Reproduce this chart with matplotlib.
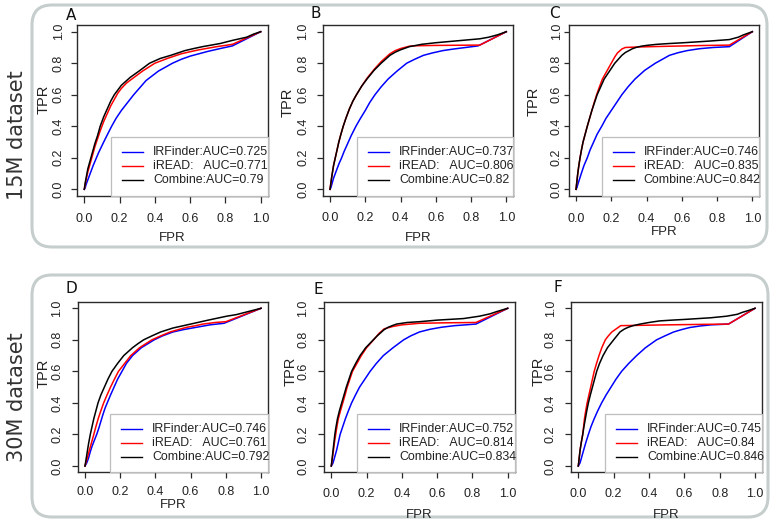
import matplotlib
matplotlib.use("Agg")
import matplotlib.pyplot as plt
from matplotlib.patches import FancyBboxPatch, Rectangle
from matplotlib.lines import Line2D

# ---------------- data ----------------
panel_letters = ["A", "B", "C", "D", "E", "F"]
row_titles = ["15M dataset", "30M dataset"]
tick_values = [0.0, 0.2, 0.4, 0.6, 0.8, 1.0]
tick_labels = ["0.0", "0.2", "0.4", "0.6", "0.8", "1.0"]
method_names = ["IRFinder", "iREAD", "Combine"]

auc_irfinder = [0.725, 0.737, 0.746, 0.746, 0.752, 0.745]
auc_iread = [0.771, 0.806, 0.835, 0.761, 0.814, 0.84]
auc_combine = [0.79, 0.82, 0.842, 0.792, 0.834, 0.846]

# Panel A
A_irf_fpr = [0, 0.005, 0.01, 0.02, 0.03, 0.04, 0.05, 0.065, 0.08, 0.095, 0.11, 0.13, 0.155, 0.18, 0.21, 0.245, 0.28, 0.315, 0.35, 0.385, 0.42, 0.46, 0.50, 0.55, 0.60, 0.65, 0.70, 0.77, 0.84, 1.0]
A_irf_tpr = [0, 0.01, 0.03, 0.06, 0.09, 0.12, 0.15, 0.19, 0.23, 0.265, 0.30, 0.345, 0.40, 0.45, 0.50, 0.55, 0.60, 0.645, 0.69, 0.72, 0.75, 0.775, 0.80, 0.825, 0.845, 0.86, 0.875, 0.893, 0.91, 1.0]
A_ird_fpr = [0, 0.01, 0.02, 0.03, 0.04, 0.05, 0.06, 0.075, 0.09, 0.11, 0.13, 0.15, 0.17, 0.19, 0.21, 0.24, 0.27, 0.30, 0.33, 0.365, 0.40, 0.435, 0.47, 0.51, 0.55, 0.60, 0.65, 0.70, 0.75, 0.80, 0.84, 1.0]
A_ird_tpr = [0, 0.06, 0.11, 0.15, 0.19, 0.23, 0.27, 0.32, 0.37, 0.43, 0.48, 0.53, 0.57, 0.61, 0.64, 0.675, 0.70, 0.725, 0.75, 0.775, 0.80, 0.815, 0.83, 0.845, 0.86, 0.873, 0.885, 0.895, 0.905, 0.913, 0.92, 1.0]
A_cmb_fpr = [0, 0.005, 0.01, 0.02, 0.03, 0.04, 0.05, 0.06, 0.075, 0.09, 0.11, 0.13, 0.15, 0.17, 0.19, 0.21, 0.235, 0.26, 0.285, 0.31, 0.34, 0.37, 0.40, 0.43, 0.46, 0.49, 0.53, 0.57, 0.62, 0.67, 0.72, 0.77, 0.84, 0.88, 0.92, 0.96, 1.0]
A_cmb_tpr = [0, 0.04, 0.07, 0.13, 0.17, 0.21, 0.25, 0.29, 0.34, 0.40, 0.46, 0.51, 0.56, 0.60, 0.63, 0.66, 0.685, 0.71, 0.73, 0.75, 0.775, 0.80, 0.815, 0.83, 0.84, 0.85, 0.865, 0.88, 0.893, 0.905, 0.915, 0.925, 0.945, 0.955, 0.965, 0.985, 1.0]

# Panel B
B_irf_fpr = [0, 0.005, 0.01, 0.02, 0.03, 0.04, 0.052, 0.066, 0.08, 0.10, 0.12, 0.147, 0.17, 0.20, 0.225, 0.255, 0.29, 0.33, 0.38, 0.435, 0.48, 0.53, 0.58, 0.64, 0.70, 0.77, 0.84, 1.0]
B_irf_tpr = [0, 0.01, 0.03, 0.07, 0.10, 0.13, 0.165, 0.20, 0.24, 0.29, 0.34, 0.40, 0.445, 0.50, 0.55, 0.60, 0.65, 0.70, 0.75, 0.80, 0.825, 0.85, 0.865, 0.88, 0.89, 0.90, 0.91, 1.0]
B_ird_fpr = [0, 0.005, 0.01, 0.02, 0.03, 0.04, 0.05, 0.062, 0.075, 0.09, 0.11, 0.13, 0.15, 0.18, 0.21, 0.25, 0.29, 0.315, 0.34, 0.37, 0.40, 0.45, 0.50, 0.60, 0.85, 1.0]
B_ird_tpr = [0, 0.04, 0.08, 0.15, 0.20, 0.25, 0.30, 0.35, 0.40, 0.45, 0.51, 0.56, 0.60, 0.655, 0.705, 0.76, 0.81, 0.835, 0.86, 0.88, 0.893, 0.908, 0.911, 0.913, 0.915, 1.0]
B_cmb_fpr = [0, 0.005, 0.01, 0.02, 0.03, 0.04, 0.05, 0.062, 0.075, 0.09, 0.11, 0.13, 0.15, 0.18, 0.21, 0.25, 0.29, 0.315, 0.34, 0.37, 0.40, 0.45, 0.52, 0.60, 0.72, 0.85, 0.90, 0.95, 1.0]
B_cmb_tpr = [0, 0.04, 0.08, 0.15, 0.20, 0.25, 0.30, 0.35, 0.40, 0.45, 0.51, 0.56, 0.60, 0.655, 0.70, 0.755, 0.80, 0.825, 0.85, 0.87, 0.885, 0.905, 0.92, 0.93, 0.942, 0.955, 0.965, 0.98, 1.0]

# Panel C
C_irf_fpr = [0, 0.005, 0.01, 0.02, 0.03, 0.045, 0.064, 0.08, 0.10, 0.12, 0.146, 0.17, 0.20, 0.23, 0.26, 0.295, 0.335, 0.39, 0.45, 0.49, 0.53, 0.58, 0.63, 0.70, 0.78, 0.87, 1.0]
C_irf_tpr = [0, 0.01, 0.03, 0.065, 0.10, 0.15, 0.20, 0.25, 0.30, 0.35, 0.40, 0.45, 0.50, 0.55, 0.60, 0.65, 0.70, 0.755, 0.80, 0.825, 0.85, 0.867, 0.88, 0.892, 0.90, 0.905, 1.0]
C_ird_fpr = [0, 0.005, 0.01, 0.016, 0.023, 0.031, 0.04, 0.052, 0.064, 0.077, 0.09, 0.103, 0.117, 0.133, 0.15, 0.175, 0.20, 0.22, 0.235, 0.26, 0.28, 0.35, 0.50, 0.70, 0.87, 1.0]
C_ird_tpr = [0, 0.05, 0.10, 0.15, 0.20, 0.25, 0.30, 0.35, 0.40, 0.45, 0.50, 0.55, 0.60, 0.65, 0.70, 0.75, 0.80, 0.84, 0.865, 0.89, 0.90, 0.903, 0.907, 0.912, 0.915, 1.0]
C_cmb_fpr = [0, 0.005, 0.01, 0.016, 0.023, 0.031, 0.04, 0.052, 0.064, 0.077, 0.09, 0.105, 0.12, 0.14, 0.16, 0.19, 0.22, 0.24, 0.26, 0.28, 0.30, 0.32, 0.34, 0.37, 0.40, 0.46, 0.53, 0.61, 0.75, 0.87, 0.92, 0.95, 1.0]
C_cmb_tpr = [0, 0.05, 0.10, 0.15, 0.20, 0.25, 0.30, 0.35, 0.40, 0.45, 0.50, 0.55, 0.60, 0.65, 0.70, 0.75, 0.80, 0.825, 0.85, 0.868, 0.88, 0.892, 0.90, 0.908, 0.913, 0.92, 0.925, 0.93, 0.94, 0.95, 0.965, 0.98, 1.0]

# Panel D
D_irf_fpr = [0, 0.01, 0.02, 0.03, 0.04, 0.054, 0.068, 0.08, 0.092, 0.103, 0.115, 0.13, 0.145, 0.165, 0.185, 0.21, 0.235, 0.27, 0.32, 0.393, 0.44, 0.50, 0.56, 0.635, 0.71, 0.79, 1.0]
D_irf_tpr = [0, 0.02, 0.05, 0.09, 0.125, 0.165, 0.205, 0.245, 0.29, 0.33, 0.37, 0.41, 0.45, 0.50, 0.55, 0.60, 0.65, 0.70, 0.75, 0.80, 0.825, 0.85, 0.865, 0.88, 0.895, 0.905, 1.0]
D_ird_fpr = [0, 0.005, 0.01, 0.02, 0.03, 0.04, 0.05, 0.062, 0.075, 0.09, 0.106, 0.125, 0.145, 0.167, 0.19, 0.225, 0.26, 0.31, 0.38, 0.43, 0.484, 0.53, 0.58, 0.63, 0.67, 0.74, 0.80, 1.0]
D_ird_tpr = [0, 0.02, 0.04, 0.08, 0.12, 0.16, 0.20, 0.25, 0.30, 0.35, 0.40, 0.45, 0.50, 0.55, 0.60, 0.65, 0.70, 0.75, 0.80, 0.825, 0.85, 0.865, 0.88, 0.89, 0.90, 0.91, 0.915, 1.0]
D_cmb_fpr = [0, 0.005, 0.01, 0.02, 0.03, 0.04, 0.05, 0.062, 0.074, 0.09, 0.11, 0.13, 0.153, 0.185, 0.22, 0.245, 0.27, 0.30, 0.333, 0.38, 0.43, 0.50, 0.60, 0.70, 0.805, 0.86, 0.93, 1.0]
D_cmb_tpr = [0, 0.035, 0.07, 0.14, 0.20, 0.25, 0.30, 0.35, 0.40, 0.45, 0.50, 0.55, 0.60, 0.65, 0.70, 0.725, 0.75, 0.775, 0.80, 0.825, 0.85, 0.875, 0.90, 0.925, 0.95, 0.96, 0.98, 1.0]

# Panel E
E_irf_fpr = [0, 0.01, 0.02, 0.03, 0.04, 0.05, 0.065, 0.08, 0.097, 0.115, 0.137, 0.16, 0.19, 0.22, 0.255, 0.295, 0.35, 0.41, 0.45, 0.50, 0.56, 0.625, 0.70, 0.82, 1.0]
E_irf_tpr = [0, 0.02, 0.06, 0.10, 0.15, 0.20, 0.25, 0.30, 0.35, 0.40, 0.45, 0.50, 0.55, 0.60, 0.65, 0.70, 0.75, 0.80, 0.825, 0.85, 0.867, 0.88, 0.89, 0.90, 1.0]
E_ird_fpr = [0, 0.005, 0.01, 0.018, 0.025, 0.032, 0.04, 0.052, 0.065, 0.078, 0.09, 0.105, 0.12, 0.145, 0.17, 0.20, 0.24, 0.27, 0.30, 0.35, 0.40, 0.50, 0.65, 0.82, 1.0]
E_ird_tpr = [0, 0.04, 0.08, 0.15, 0.20, 0.25, 0.30, 0.35, 0.40, 0.45, 0.50, 0.55, 0.60, 0.65, 0.70, 0.75, 0.80, 0.84, 0.87, 0.885, 0.895, 0.905, 0.908, 0.91, 1.0]
E_cmb_fpr = [0, 0.005, 0.01, 0.015, 0.02, 0.027, 0.035, 0.046, 0.059, 0.072, 0.085, 0.10, 0.115, 0.138, 0.163, 0.195, 0.238, 0.26, 0.285, 0.30, 0.323, 0.345, 0.37, 0.43, 0.50, 0.60, 0.75, 0.84, 0.90, 0.94, 1.0]
E_cmb_tpr = [0, 0.05, 0.10, 0.15, 0.20, 0.25, 0.30, 0.35, 0.40, 0.45, 0.50, 0.55, 0.60, 0.65, 0.70, 0.75, 0.80, 0.825, 0.85, 0.865, 0.88, 0.89, 0.90, 0.91, 0.915, 0.925, 0.935, 0.95, 0.965, 0.98, 1.0]

# Panel F
F_irf_fpr = [0, 0.01, 0.02, 0.03, 0.043, 0.057, 0.072, 0.09, 0.11, 0.132, 0.157, 0.185, 0.213, 0.245, 0.285, 0.33, 0.38, 0.443, 0.49, 0.54, 0.585, 0.63, 0.69, 0.75, 0.85, 1.0]
F_irf_tpr = [0, 0.02, 0.06, 0.10, 0.15, 0.20, 0.25, 0.30, 0.35, 0.40, 0.45, 0.50, 0.55, 0.60, 0.65, 0.70, 0.75, 0.80, 0.825, 0.85, 0.865, 0.878, 0.888, 0.895, 0.90, 1.0]
F_ird_fpr = [0, 0.005, 0.01, 0.017, 0.025, 0.03, 0.035, 0.042, 0.05, 0.06, 0.07, 0.08, 0.09, 0.103, 0.117, 0.133, 0.153, 0.17, 0.19, 0.24, 0.35, 0.50, 0.70, 0.85, 1.0]
F_ird_tpr = [0, 0.05, 0.10, 0.15, 0.20, 0.25, 0.30, 0.35, 0.40, 0.45, 0.50, 0.55, 0.60, 0.65, 0.70, 0.75, 0.80, 0.825, 0.85, 0.89, 0.892, 0.895, 0.898, 0.90, 1.0]
F_cmb_fpr = [0, 0.005, 0.01, 0.017, 0.025, 0.032, 0.04, 0.048, 0.057, 0.068, 0.08, 0.092, 0.104, 0.12, 0.14, 0.165, 0.20, 0.236, 0.26, 0.283, 0.31, 0.35, 0.40, 0.46, 0.53, 0.61, 0.75, 0.84, 0.90, 0.93, 0.96, 1.0]
F_cmb_tpr = [0, 0.05, 0.10, 0.15, 0.20, 0.25, 0.30, 0.35, 0.40, 0.45, 0.50, 0.55, 0.60, 0.65, 0.70, 0.75, 0.80, 0.85, 0.868, 0.88, 0.89, 0.90, 0.91, 0.92, 0.925, 0.93, 0.94, 0.95, 0.962, 0.975, 0.985, 1.0]

irfinder_curves = [(A_irf_fpr, A_irf_tpr), (B_irf_fpr, B_irf_tpr), (C_irf_fpr, C_irf_tpr),
                   (D_irf_fpr, D_irf_tpr), (E_irf_fpr, E_irf_tpr), (F_irf_fpr, F_irf_tpr)]
iread_curves = [(A_ird_fpr, A_ird_tpr), (B_ird_fpr, B_ird_tpr), (C_ird_fpr, C_ird_tpr),
                (D_ird_fpr, D_ird_tpr), (E_ird_fpr, E_ird_tpr), (F_ird_fpr, F_ird_tpr)]
combine_curves = [(A_cmb_fpr, A_cmb_tpr), (B_cmb_fpr, B_cmb_tpr), (C_cmb_fpr, C_cmb_tpr),
                  (D_cmb_fpr, D_cmb_tpr), (E_cmb_fpr, E_cmb_tpr), (F_cmb_fpr, F_cmb_tpr)]

# ---------------- layout (pixels, top-left origin) ----------------
W, H = 778, 525
# x of data 0, x of data 1, y of data 1, y of data 0, legend left, legend top,
# letter xy, TPR xy, FPR y, xtick label center y, ytick label center x, tick length
layout = [
    (84.3, 260.7, 31.7, 189.3, 111.0, 137.0, (71, 15), (44, 99), 238, 219, 59.0, 6.5),
    (330.0, 506.3, 31.7, 189.3, 357.3, 137.3, (316, 14), (288, 102), 238, 218, 303.5, 6.0),
    (576.0, 752.3, 31.7, 189.3, 601.7, 136.7, (554.5, 13), (534, 101), 232, 219, 557.0, 5.0),
    (85.0, 261.0, 308.3, 466.0, 110.0, 414.0, (71.5, 288.5), (44, 373), 505, 492, 57.5, 6.0),
    (331.3, 507.7, 308.3, 466.0, 357.3, 414.0, (318, 289.5), (291, 371), 515, 494, 303.5, 6.0),
    (578.3, 755.0, 308.3, 466.0, 605.0, 414.0, (557.5, 288), (539, 371), 515, 494, 551.0, 6.0),
]
frames = [(32, 5, 767, 247), (32, 275, 768, 517)]
row_title_pos = [(17, 135), (17, 397)]

SANS = ["Liberation Sans", "DejaVu Sans"]
tick_fs = 9.0

fig = plt.figure(figsize=(W / 100, H / 100), dpi=100)
fig.patch.set_facecolor("white")


def fx(x):
    return x / W


def fy(y):
    return 1 - y / H


# rounded frames
for (l, t, r, b) in frames:
    patch = FancyBboxPatch((l / 100, (H - b) / 100), (r - l) / 100, (b - t) / 100,
                           boxstyle="round,pad=0,rounding_size=0.2",
                           transform=fig.dpi_scale_trans, facecolor="none",
                           edgecolor="#c6cdcd", linewidth=2.2, zorder=0)
    fig.patches.append(patch)

for title, (tx, ty) in zip(row_titles, row_title_pos):
    fig.text(fx(tx), fy(ty), title, rotation=90, ha="center", va="center",
             fontsize=15, family=["DejaVu Sans"], color="#333333")

colors = ["#0000ff", "#ff0000", "#000000"]
axes_list = []

for i, lay in enumerate(layout):
    x0, x1, y1, y0, lgl, lgt, lxy, txy, fpr_y, xt_y, yt_x, tl = lay
    dx = x1 - x0
    dy = y0 - y1
    bl, br = x0 - 0.04 * dx, x1 + 0.04 * dx
    bt, bb = y1 - 0.04 * dy, y0 + 0.04 * dy
    ax = fig.add_axes([fx(bl), fy(bb), (br - bl) / W, (bb - bt) / H])
    ax.set_xlim(-0.04, 1.04)
    ax.set_ylim(-0.04, 1.04)

    curves = [irfinder_curves[i], iread_curves[i], combine_curves[i]]
    for (fpr, tpr), c in zip(curves, colors):
        ax.plot(fpr, tpr, color=c, linewidth=1.1, solid_joinstyle="round")

    for s in ax.spines.values():
        s.set_color("#2a2a2a")
        s.set_linewidth(1.0)

    ax.set_xticks(tick_values)
    ax.set_xticklabels(tick_labels)
    ax.set_yticks(tick_values)
    ax.set_yticklabels(tick_labels)
    tl_pt = tl * 0.72
    ax.tick_params(axis="both", direction="out", length=tl_pt, width=0.9,
                   color="#2a2a2a", pad=4.0, labelsize=tick_fs, labelcolor="#222222")
    for lab in ax.get_xticklabels() + ax.get_yticklabels():
        lab.set_family(SANS)
    for lab in ax.get_yticklabels():
        lab.set_rotation(90)
        lab.set_va("center")
        lab.set_ha("right")
    axes_list.append((ax, bb, bl))

    # panel letter
    fig.text(fx(lxy[0]), fy(lxy[1]), panel_letters[i], ha="center", va="center",
             fontsize=11, family=["DejaVu Sans"], color="#111111")
    # axis labels
    fig.text(fx(txy[0]), fy(txy[1]), "TPR", rotation=90, ha="center", va="center",
             fontsize=10.5, family=SANS, color="#222222")
    fig.text(fx((x0 + x1) / 2), fy(fpr_y), "FPR", ha="center", va="center",
             fontsize=9.5, family=SANS, color="#222222")

    # legend (bottom right box)
    leg = Rectangle((fx(lgl), fy(bb)), (br - lgl) / W, (bb - lgt) / H,
                    transform=fig.transFigure, facecolor="white",
                    edgecolor="#bdbdbd", linewidth=0.9, zorder=5)
    fig.patches.append(leg)
    labels = [
        "IRFinder:AUC=" + str(auc_irfinder[i]),
        "iREAD:   AUC=" + str(auc_iread[i]),
        "Combine:AUC=" + str(auc_combine[i]),
    ]
    for k, (lab, c) in enumerate(zip(labels, colors)):
        ry = lgt + 15 + 14 * k
        fig.lines.append(Line2D([fx(lgl + 11), fx(lgl + 32)], [fy(ry), fy(ry)],
                                transform=fig.transFigure, color=c, linewidth=1.0,
                                zorder=6))
        fig.text(fx(lgl + 42), fy(ry), lab, ha="left", va="center",
                 fontsize=8.9, family=SANS, color="#222222", zorder=7)

# adjust tick-label distance so label centres land where they are in the reference
fig.canvas.draw()
renderer = fig.canvas.get_renderer()
for (ax, bb, bl), lay in zip(axes_list, layout):
    xt_y, yt_x = lay[9], lay[10]
    ex = ax.get_xticklabels()[0].get_window_extent(renderer)
    cy = H - (ex.y0 + ex.y1) / 2.0
    xpad = max(4.0 + (xt_y - cy) * 0.72, 0.0)
    ey = ax.get_yticklabels()[0].get_window_extent(renderer)
    cx = (ey.x0 + ey.x1) / 2.0
    ypad = max(4.0 + (cx - yt_x) * 0.72, 0.0)
    ax.tick_params(axis="x", pad=xpad)
    ax.tick_params(axis="y", pad=ypad)

fig.savefig("out.png", dpi=100, facecolor="white")
